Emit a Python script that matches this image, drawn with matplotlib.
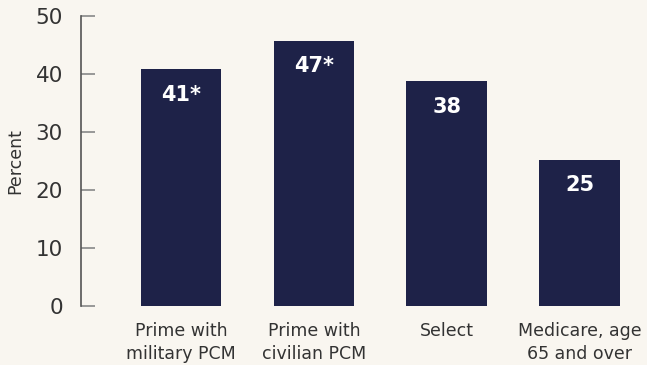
import matplotlib
matplotlib.use("Agg")
import matplotlib.pyplot as plt

categories = ["Prime with\nmilitary PCM", "Prime with\ncivilian PCM", "Select", "Medicare, age\n65 and over"]
values = [40.8, 45.7, 38.7, 25.2]
bar_labels = ["41*", "47*", "38", "25"]
yticks = [0, 10, 20, 30, 40, 50]

bg = "#f9f6f0"
bar_color = "#1e2248"
text_color = "#333333"

plt.rcParams['font.family'] = ['DejaVu Sans']

fig = plt.figure(figsize=(6.47, 3.65), dpi=100, facecolor=bg)
ax = fig.add_axes([81/647, 1 - 305.7/365, (646 - 81)/647, (305.7 - 16)/365])
ax.set_facecolor(bg)

x = list(range(len(categories)))
ax.bar(x, values, width=0.607, color=bar_color, zorder=2)

for xi, v, lab in zip(x, values, bar_labels):
    ax.text(xi, v - 4.4, lab, ha="center", va="center", color="white",
            fontsize=15, fontweight="bold")

ax.set_xlim(-0.754, 3.5)
ax.set_ylim(0, 50)
ax.set_yticks(yticks)
ax.set_xticks(x)
ax.set_xticklabels(categories, fontsize=12.5, color=text_color, linespacing=1.3)

for s in ["top", "right", "bottom"]:
    ax.spines[s].set_visible(False)
ax.spines["left"].set_color("#555555")
ax.spines["left"].set_linewidth(1.2)

ax.tick_params(axis="y", direction="in", length=10, width=1.2, color="#888888",
               labelsize=15.5, labelcolor=text_color, pad=13)
ax.tick_params(axis="x", length=0, pad=12)

ax.set_ylabel("Percent", fontsize=12.5, color=text_color, labelpad=8)

fig.savefig("out.png", dpi=100, facecolor=bg)
